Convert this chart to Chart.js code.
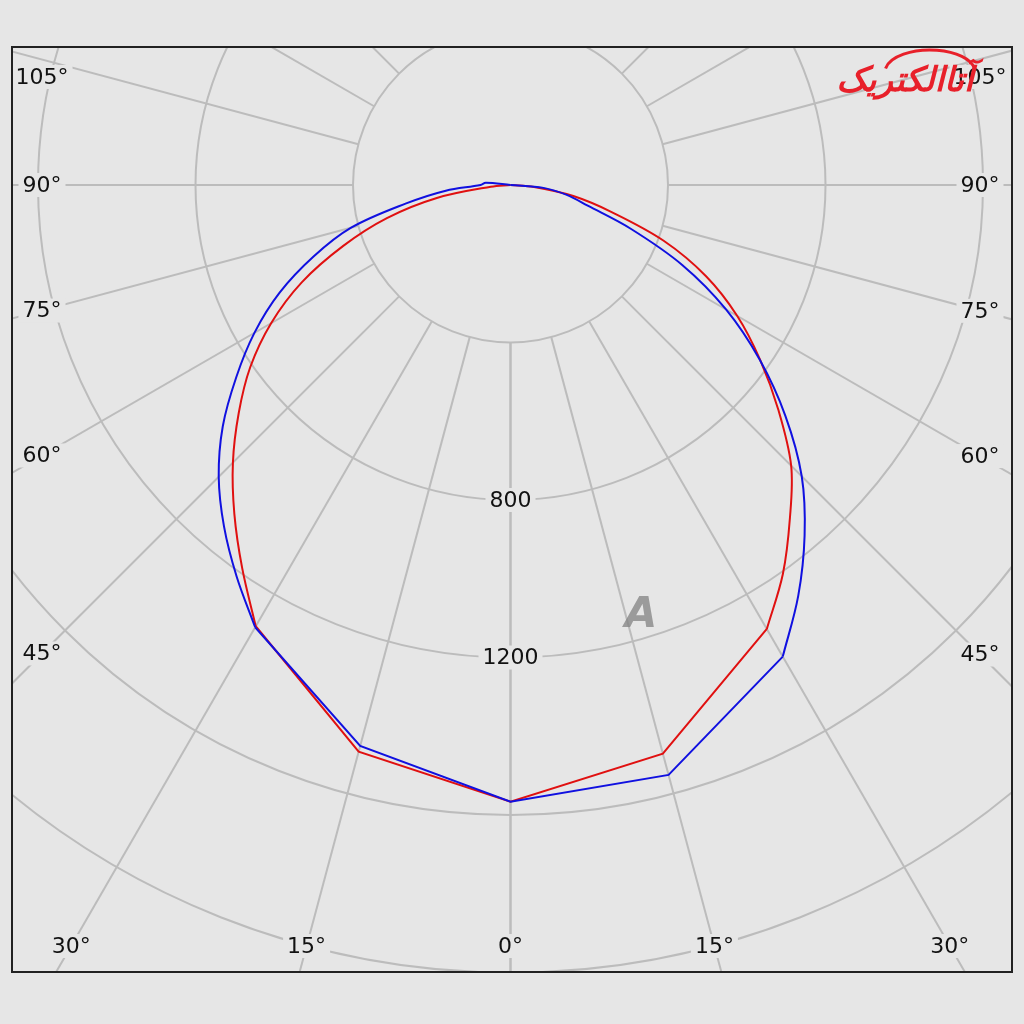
<!DOCTYPE html>
<html>
<head>
<meta charset="utf-8">
<script src="https://cdn.jsdelivr.net/npm/chart.js@4"></script>
<style>
    body { margin: 0; background: #e6e6e6; }
</style>
</head>
<body>
<canvas id="myChart" width="1024" height="1024"></canvas>
<script>
    // gamma angles (deg from nadir) and intensities (cd) per half plane
    var angles = [0, 15, 30, 35, 40, 45, 50, 55, 60, 65, 70, 75, 80, 85, 90, 95, 100];
    var redLeft = [1566, 1490, 1294, 1188, 1091, 997, 901, 807, 702, 585, 452, 325, 190, 50, 0, 0, 0];
    var redRight = [1566, 1495, 1302, 1206, 1104, 1008, 888, 774, 665, 548, 414, 266, 162, 60, 0, 0, 0];
    var blueLeft = [1566, 1475, 1297, 1213, 1132, 1048, 954, 850, 751, 647, 533, 419, 269, 165, 76, 63, 0];
    var blueRight = [1566, 1551, 1383, 1274, 1162, 1046, 911, 772, 632, 482, 325, 203, 145, 84, 0, 0, 0];

    var ringValues = [400, 800, 1200, 1600, 2000];
    var ringLabels = [800, 1200];
    var spokeAngles = [0, 15, 30, 45, 60, 75, 90, 105, 120, 135, 150, 165, 180];
    var angleLabels = [0, 15, 30, 45, 60, 75, 90, 105];

    var bg = '#e6e6e6';
    var gridColor = '#bcbcbc';
    var labelFont = '22px "DejaVu Sans", Verdana, sans-serif';
    var smoothFrom = 30;   // below this the photometer data is drawn with straight chords

    function rad(d) { return d * Math.PI / 180; }

    function pt(v, g, s) {
        return { x: s * v * Math.sin(rad(g)), y: -v * Math.cos(rad(g)) };
    }

    // three pieces per plane: upper left, lower part, upper right
    function pieces(left, right, color, order) {
        var upL = [], low = [], upR = [];
        for (var i = angles.length - 1; i >= 0; i--) {
            if (angles[i] >= smoothFrom) upL.push(pt(left[i], angles[i], -1));
            if (angles[i] <= smoothFrom) low.push(pt(left[i], angles[i], -1));
        }
        for (var j = 1; j < angles.length; j++) {
            if (angles[j] <= smoothFrom) low.push(pt(right[j], angles[j], 1));
            if (angles[j] >= smoothFrom) upR.push(pt(right[j], angles[j], 1));
        }
        return [[upL, 0.35], [low, 0], [upR, 0.35]].map(function (p) {
            return {
                data: p[0],
                showLine: true,
                borderColor: color,
                borderWidth: 2,
                pointRadius: 0,
                tension: p[1],
                order: order
            };
        });
    }

    function drawLabel(ctx, text, x, y) {
        ctx.font = labelFont;
        var w = ctx.measureText(text).width + 8;
        ctx.fillStyle = bg;
        ctx.fillRect(x - w / 2, y - 12, w, 24);
        ctx.fillStyle = '#111';
        ctx.textAlign = 'center';
        ctx.textBaseline = 'middle';
        ctx.fillText(text, x, y + 1);
    }

    var polarGrid = {
        id: 'polarGrid',
        beforeDatasetsDraw: function (chart) {
            var ctx = chart.ctx, a = chart.chartArea;
            var sx = chart.scales.x, sy = chart.scales.y;
            var cx = sx.getPixelForValue(0), cy = sy.getPixelForValue(0);
            var k = (sx.getPixelForValue(1000) - cx) / 1000;

            ctx.save();
            ctx.beginPath();
            ctx.rect(a.left, a.top, a.right - a.left, a.bottom - a.top);
            ctx.clip();
            ctx.strokeStyle = gridColor;
            ctx.lineWidth = 2;

            ringValues.forEach(function (v) {
                ctx.beginPath();
                ctx.arc(cx, cy, v * k, 0, Math.PI * 2);
                ctx.stroke();
            });

            var rIn = ringValues[0], rOut = 4000;
            spokeAngles.forEach(function (g) {
                [-1, 1].forEach(function (s) {
                    var p0 = pt(rIn, g, s), p1 = pt(rOut, g, s);
                    ctx.beginPath();
                    ctx.moveTo(sx.getPixelForValue(p0.x), sy.getPixelForValue(p0.y));
                    ctx.lineTo(sx.getPixelForValue(p1.x), sy.getPixelForValue(p1.y));
                    ctx.stroke();
                });
            });

            // intensity labels on the 0 deg spoke
            ringLabels.forEach(function (v) {
                drawLabel(ctx, String(v), cx, sy.getPixelForValue(-v));
            });

            // angle labels where each spoke meets an inset frame
            var xl = a.left + 30, xr = a.right - 32, yb = a.bottom - 26, yt = a.top + 30;
            angleLabels.forEach(function (g) {
                var sides = g === 0 ? [1] : [-1, 1];
                sides.forEach(function (s) {
                    var dx = Math.sin(rad(g)) * s, dy = Math.cos(rad(g));
                    var t = Infinity;
                    if (dx > 1e-9) t = Math.min(t, (xr - cx) / dx);
                    if (dx < -1e-9) t = Math.min(t, (xl - cx) / dx);
                    if (dy > 1e-9) t = Math.min(t, (yb - cy) / dy);
                    var px = cx + dx * t, py = Math.max(yt, cy + dy * t);
                    drawLabel(ctx, g + '°', px, py);
                });
            });
            ctx.restore();
        },
        afterDraw: function (chart) {
            var ctx = chart.ctx, a = chart.chartArea;
            ctx.save();
            ctx.strokeStyle = '#222';
            ctx.lineWidth = 2;
            ctx.strokeRect(a.left, a.top, a.right - a.left, a.bottom - a.top);

            // watermark logos
            ctx.fillStyle = '#e8202a';
            ctx.font = 'bold italic 34px "DejaVu Sans", sans-serif';
            ctx.textAlign = 'center';
            ctx.textBaseline = 'middle';
            ctx.fillText('آتاالکتریک', 905, 82);
            ctx.strokeStyle = '#e8202a';
            ctx.lineWidth = 3;
            ctx.beginPath();
            ctx.ellipse(930, 72, 45, 22, 0, Math.PI * 1.05, Math.PI * 1.95);
            ctx.stroke();

            ctx.fillStyle = 'rgba(130,130,130,0.75)';
            ctx.font = 'bold italic 42px "DejaVu Sans", sans-serif';
            ctx.fillText('A', 641, 616);
            ctx.restore();
        }
    };

    var ctx = document.getElementById('myChart').getContext('2d');
    var k = 157.5 / 400;      // px per cd
    var cxPx = 510.5, cyPx = 185;
    var chart = new Chart(ctx, {
        type: 'scatter',
        data: {
            datasets: pieces(blueLeft, blueRight, '#1010e0', 0)
                .concat(pieces(redLeft, redRight, '#e01010', 1))
        },
        options: {
            responsive: false,
            animation: false,
            layout: { padding: { left: 12, top: 47, right: 12, bottom: 52 } },
            scales: {
                x: { type: 'linear', display: false, min: -(cxPx - 12) / k, max: (1012 - cxPx) / k },
                y: { type: 'linear', display: false, min: -(972 - cyPx) / k, max: (cyPx - 47) / k }
            },
            plugins: {
                legend: { display: false },
                tooltip: { enabled: false }
            }
        },
        plugins: [polarGrid]
    });
</script>
</body>
</html>
